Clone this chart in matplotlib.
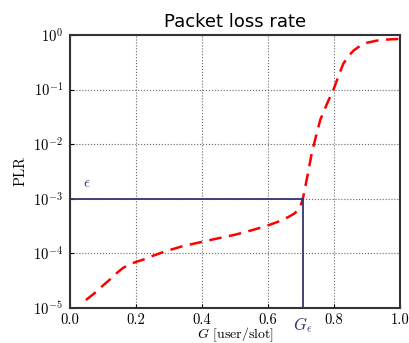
import numpy as np
import matplotlib
matplotlib.use("Agg")
import matplotlib.pyplot as plt

plt.rcParams['mathtext.fontset'] = 'cm'
plt.rcParams['font.family'] = 'serif'
plt.rcParams['font.serif'] = ['cmr10', 'DejaVu Serif']
plt.rcParams['axes.formatter.use_mathtext'] = True

# load G [user/slot] and packet loss rate
G = [0.048, 0.08, 0.10, 0.12, 0.14, 0.16, 0.18, 0.20, 0.222, 0.25, 0.29, 0.34,
     0.394, 0.45, 0.50, 0.55, 0.596, 0.63, 0.66, 0.68, 0.69, 0.70, 0.706, 0.72,
     0.732, 0.745, 0.758, 0.78, 0.798, 0.815, 0.828, 0.845, 0.859, 0.88, 0.899,
     0.93, 0.96, 1.0]
PLR = [1.4e-5, 2.0e-5, 2.6e-5, 3.3e-5, 4.3e-5, 5.4e-5, 6.3e-5, 7.0e-5, 7.7e-5,
       9.0e-5, 1.1e-4, 1.35e-4, 1.6e-4, 1.9e-4, 2.2e-4, 2.65e-4, 3.2e-4, 3.8e-4,
       4.6e-4, 5.4e-4, 6.2e-4, 8.0e-4, 1.05e-3, 2.8e-3, 6.8e-3, 1.4e-2, 2.8e-2,
       5.8e-2, 0.1, 0.19, 0.30, 0.42, 0.52, 0.64, 0.72, 0.79, 0.825, 0.85]
G_eps = 0.705
eps = 1e-3
xticks = [0.0, 0.2, 0.4, 0.6, 0.8, 1.0]
xtick_labels = ['0.0', '0.2', '0.4', '0.6', '0.8', '1.0']

navy = '#34346e'

fig = plt.figure(figsize=(4.1, 3.43), dpi=100)
ax = fig.add_axes([0.171, 0.102, 0.805, 0.796])

ax.semilogy(G, PLR, color='red', linestyle='--', linewidth=1.8, dashes=(5, 3))
ax.plot([0, G_eps], [eps, eps], color=navy, linewidth=1.3)
ax.plot([G_eps, G_eps], [1e-5, eps], color=navy, linewidth=1.3)
ax.text(0.04, 1.6e-3, r'$\epsilon$', color=navy, fontsize=11)

ax.set_xlim(0, 1)
ax.set_ylim(1e-5, 1)
ax.set_xticks(xticks)
ax.set_xticklabels(xtick_labels)
ax.set_yticks([1e-5, 1e-4, 1e-3, 1e-2, 1e-1, 1])
ax.minorticks_off()
ax.grid(True, color='#666666', linestyle=':', linewidth=0.8)
ax.tick_params(direction='in', length=3, labelsize=10.5, pad=5)
ax.tick_params(axis='x', pad=4)

# G_eps label on the x axis
ax.text(G_eps, -0.03, r'$G_\epsilon$', color=navy, fontsize=12,
        ha='center', va='top', transform=ax.get_xaxis_transform())

for s in ax.spines.values():
    s.set_linewidth(1.5)
    s.set_color('#333333')

ax.set_xlabel(r'$G$ [user/slot]', fontsize=10, labelpad=-1)
ax.set_ylabel('PLR', fontsize=10.5, labelpad=4)
ax.set_title('Packet loss rate', fontsize=13, family='DejaVu Sans', pad=6)

fig.savefig('out.png', dpi=100)
